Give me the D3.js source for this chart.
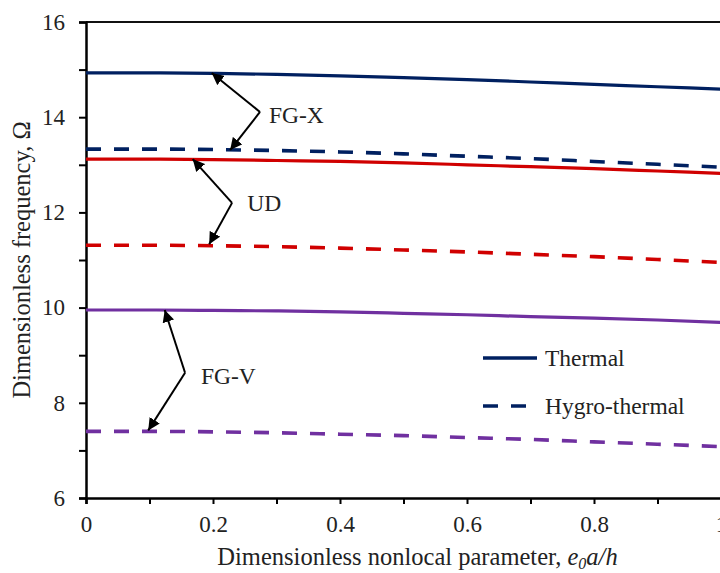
<!DOCTYPE html>
<html>
<head>
<meta charset="utf-8">
<script src="https://cdnjs.cloudflare.com/ajax/libs/d3/7.8.5/d3.min.js"></script>
<style>
  body { margin: 0; background: #fff; }
  svg, svg text { font-family: "Liberation Serif", "Times New Roman", Times, "DejaVu Serif", serif; }
</style>
</head>
<body>
<div class="container"></div>
<script>
// nonlocal parameter e0a/h
const xs = [0, 0.1, 0.2, 0.3, 0.4, 0.5, 0.6, 0.7, 0.8, 0.9, 1.0]

// dimensionless frequency
const fgxThermal = [14.93, 14.93, 14.92, 14.90, 14.87, 14.83, 14.79, 14.74, 14.69, 14.64, 14.59]
const fgxHygro   = [13.33, 13.33, 13.32, 13.30, 13.27, 13.23, 13.18, 13.13, 13.07, 13.01, 12.95]
const udThermal  = [13.12, 13.12, 13.11, 13.09, 13.07, 13.04, 13.00, 12.96, 12.92, 12.87, 12.82]
const udHygro    = [11.31, 11.31, 11.30, 11.28, 11.25, 11.21, 11.17, 11.12, 11.07, 11.01, 10.95]
const fgvThermal = [9.95, 9.95, 9.94, 9.93, 9.91, 9.88, 9.85, 9.81, 9.78, 9.74, 9.69]
const fgvHygro   = [7.40, 7.40, 7.39, 7.37, 7.34, 7.31, 7.27, 7.23, 7.18, 7.13, 7.08]

const xTicks = [0, 0.1, 0.2, 0.3, 0.4, 0.5, 0.6, 0.7, 0.8, 0.9, 1.0]
const yTicks = [6, 7, 8, 9, 10, 11, 12, 13, 14, 15, 16]

// labels with their two arrow tips, in data units
const labels = ["FG-X", "UD", "FG-V"]
const labelPos = [[0.288, 14.05], [0.254, 12.20], [0.181, 8.56]]
const kinks = [[0.274, 14.11], [0.23, 12.20], [0.156, 8.63]]
const tipsUp = [[0.198, 14.93], [0.168, 13.12], [0.124, 9.95]]
const tipsDown = [[0.227, 13.31], [0.194, 11.33], [0.098, 7.42]]

const w = 720
const h = 573
const m = { left: 86, top: 22, right: -1, bottom: 75 }
const serif = '"Liberation Serif", "Times New Roman", Times, "DejaVu Serif", serif'

const series = [
  { v: fgxThermal, c: "#002060", dash: null },
  { v: fgxHygro, c: "#002060", dash: "15,13" },
  { v: udThermal, c: "#d00000", dash: null },
  { v: udHygro, c: "#d00000", dash: "15,13" },
  { v: fgvThermal, c: "#7030a0", dash: null },
  { v: fgvHygro, c: "#7030a0", dash: "15,13" }
]

const svg = d3.select(".container")
  .append("svg")
  .attr("width", w)
  .attr("height", h)
  .attr("font-family", serif)

const x = d3.scaleLinear().domain([0, 1]).range([m.left, w - m.right])
const y = d3.scaleLinear().domain([6, 16]).range([h - m.bottom, m.top])

// top frame
svg.append("line")
  .attr("x1", x(0)).attr("x2", x(1))
  .attr("y1", y(16)).attr("y2", y(16))
  .attr("stroke", "#111").attr("stroke-width", 2.2)

const xAxis = svg.append("g")
  .attr("transform", `translate(0,${y(6)})`)
  .call(d3.axisBottom(x).tickValues(xTicks).tickSize(6).tickPadding(12)
    .tickFormat(d => (Math.round(d * 10) % 2 === 0) ? d3.format("")(+d.toFixed(1)) : ""))

const yAxis = svg.append("g")
  .attr("transform", `translate(${x(0)},0)`)
  .call(d3.axisLeft(y).tickValues(yTicks).tickSize(7).tickPadding(14)
    .tickFormat(d => d % 2 === 0 ? d : ""))

;[xAxis, yAxis].forEach(a => {
  a.attr("font-family", serif).attr("font-size", 23)
  a.select(".domain").attr("stroke", "#000").attr("stroke-width", 2.5)
  a.selectAll(".tick line").attr("stroke", "#000").attr("stroke-width", 2)
  a.selectAll("text").attr("fill", "#222")
})

const line = d3.line()
  .x((d, i) => x(xs[i]))
  .y(d => y(d))
  .curve(d3.curveMonotoneX)

svg.selectAll(".series")
  .data(series)
  .enter()
  .append("path")
  .attr("class", "series")
  .attr("d", d => line(d.v))
  .attr("fill", "none")
  .attr("stroke", d => d.c)
  .attr("stroke-width", d => d.dash ? 3.6 : 3.2)
  .attr("stroke-dasharray", d => d.dash)

// arrows
svg.append("defs").append("marker")
  .attr("id", "head")
  .attr("viewBox", "0 0 10 10")
  .attr("refX", 10).attr("refY", 5)
  .attr("markerWidth", 6).attr("markerHeight", 6)
  .attr("markerUnits", "strokeWidth")
  .attr("orient", "auto")
  .append("path")
  .attr("d", "M0,0 L10,5 L0,10 Z")
  .attr("fill", "#000")

labels.forEach((lab, i) => {
  ;[tipsUp[i], tipsDown[i]].forEach(t => {
    svg.append("line")
      .attr("x1", x(kinks[i][0])).attr("y1", y(kinks[i][1]))
      .attr("x2", x(t[0])).attr("y2", y(t[1]))
      .attr("stroke", "#000").attr("stroke-width", 2)
      .attr("marker-end", "url(#head)")
  })
  svg.append("text")
    .attr("x", x(labelPos[i][0]))
    .attr("y", y(labelPos[i][1]))
    .attr("dy", "0.35em")
    .attr("font-size", 23.5)
    .attr("fill", "#222")
    .text(lab)
})

// legend
const legend = svg.append("g").attr("transform", "translate(483,358)")
const legendItems = [["Thermal", null], ["Hygro-thermal", "15,13"]]
legendItems.forEach((d, i) => {
  legend.append("line")
    .attr("x1", 0).attr("x2", 54)
    .attr("y1", i * 48).attr("y2", i * 48)
    .attr("stroke", "#002060")
    .attr("stroke-width", 3.6)
    .attr("stroke-dasharray", d[1])
  legend.append("text")
    .attr("x", 62).attr("y", i * 48)
    .attr("dy", "0.33em")
    .attr("font-size", 23.5)
    .attr("fill", "#222")
    .text(d[0])
})

// axis titles
svg.append("text")
  .attr("x", (x(0) + x(1)) / 2 + 14)
  .attr("y", 565)
  .attr("text-anchor", "middle")
  .attr("font-size", 24.5)
  .attr("fill", "#222")
  .html('Dimensionless nonlocal parameter, <tspan font-style="italic">e</tspan><tspan font-style="italic" font-size="16" dy="4">0</tspan><tspan font-style="italic" dy="-4">a/h</tspan>')

svg.append("text")
  .attr("transform", `translate(30,${(y(6) + y(16)) / 2}) rotate(-90)`)
  .attr("text-anchor", "middle")
  .attr("font-size", 24.5)
  .attr("fill", "#222")
  .text("Dimensionless frequency, Ω")
</script>
</body>
</html>
